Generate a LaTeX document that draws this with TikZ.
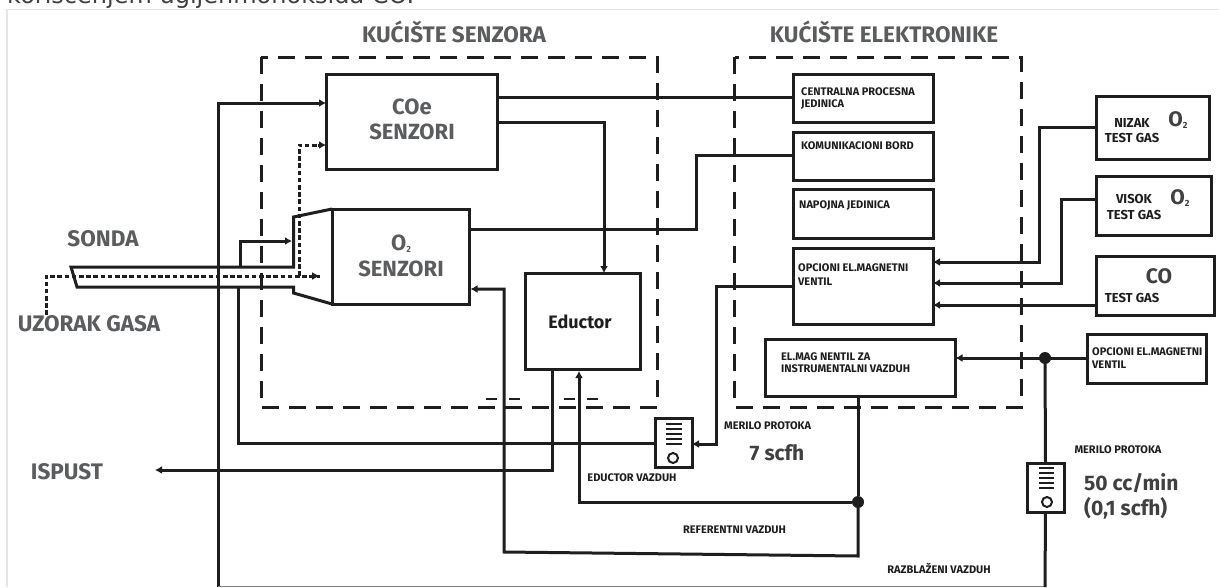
\documentclass[tikz,border=0pt]{standalone}
\usepackage{fontspec}
\setmainfont{Fira Sans}
\newfontfamily\topfont{DejaVu Sans}
\usetikzlibrary{arrows.meta}
\definecolor{inkc}{HTML}{1E1E1E}
\definecolor{headc}{HTML}{5A5C5E}
\definecolor{framec}{HTML}{E6E6E6}
\newcommand{\subtwo}{\raisebox{-2pt}{\fontsize{9}{9}\selectfont 2}}
\tikzset{
  conn/.style={draw=inkc,line width=3pt,line join=miter},
  arr/.style={conn,-{Latex[length=7pt,width=8pt]}},
  gas/.style={draw=inkc,line width=3pt,dash pattern=on 4.6pt off 2.6pt},
  house/.style={draw=inkc,line width=3pt,dash pattern=on 17pt off 10pt},
  boxn/.style={draw=inkc,line width=3pt,fill=white,inner sep=0pt,outer sep=0pt},
  head/.style={font=\bfseries\fontsize{22.5}{22.5}\selectfont,text=headc,inner sep=0pt},
  big/.style={font=\bfseries\fontsize{22}{24}\selectfont,text=headc,inner sep=0pt,align=center},
  mid/.style={font=\bfseries\fontsize{21}{25}\selectfont,text=inkc!85,inner sep=0pt,align=left},
  tiny/.style={font=\bfseries\fontsize{11}{13}\selectfont,text=inkc,inner sep=0pt,align=left},
  tsm/.style={font=\bfseries\fontsize{13}{13}\selectfont,text=inkc,inner sep=0pt},
  dotn/.style={circle,fill=inkc,minimum size=12pt,inner sep=0pt,outer sep=0pt},
  bar/.style={draw=inkc,line width=2pt},
}
\newcommand{\rbox}[5]{\node[boxn,minimum width=#4pt-#2pt,minimum height=#5pt-#3pt,anchor=north west] (#1) at (#2,#3) {};}
\begin{document}
\begin{tikzpicture}[x=1pt,y=-1pt]
\useasboundingbox (0,0) rectangle (1219,587);
\fill[white] (0,0) rectangle (1219,587);
% page text and frame
\begin{scope}
\clip (0,0) rectangle (1219,8);
\node[anchor=base west,inner sep=0pt,font=\topfont\fontsize{24}{26}\selectfont,text=black!75] (toptext) at (7,3.5) {korišćenjem ugljenmonoksida CO.};
\end{scope}
\draw[framec,line width=1.4pt] (7,587) -- (7,9.5) -- (1219,9.5);

% dashed housings
\coordinate (sa) at (261,57); \coordinate (sb) at (657,407);
\coordinate (ea) at (734.5,57); \coordinate (eb) at (1021,407);
\draw[house] (sa) rectangle (sb);
\draw[house] (ea) rectangle (eb);
\node[head] (hs) at (454,32) {KUĆIŠTE SENZORA};
\node[head] (he) at (884,32) {KUĆIŠTE ELEKTRONIKE};

% short dashes
\draw[conn,line width=2pt,dash pattern=on 11pt off 12pt] (486,398.5) -- (521,398.5);
\draw[conn,line width=2pt,dash pattern=on 11pt off 12pt] (564,398.5) -- (599,398.5);

% boxes
\rbox{coe}{326}{74}{497}{169}
\rbox{otwo}{332}{209}{469}{304}
\rbox{educ}{525}{273}{640}{369}
\rbox{cpu}{793}{74}{933}{122}
\rbox{kom}{793}{132}{933}{180}
\rbox{nap}{793}{189}{933}{238}
\rbox{opc}{793}{248}{933}{324}
\rbox{elm}{765}{339}{955.5}{396}
\rbox{niz}{1096}{96}{1209}{159}
\rbox{vis}{1096}{176}{1211}{235}
\rbox{cog}{1096}{256}{1214}{315}
\rbox{opr}{1087}{334}{1206}{383}
\rbox{mone}{655}{418}{692}{467}
\rbox{mtwo}{1027}{463}{1064}{512}

% named free points
\coordinate (probeTL) at (71,267);
\coordinate (probeBL) at (77,287);
\coordinate (probeTR) at (293.5,267);
\coordinate (probeBR) at (293.5,287);
\coordinate (gasStart) at (46,315);
\coordinate (gasEnd) at (320,276);
\coordinate (ispust) at (155,470);
\node[dotn] (jref) at (858,502) {};
\node[dotn] (jin) at (1045,358) {};

% probe and funnel
\draw[conn] (otwo.north west) -- (293.5,217) -- (probeTR) -- (probeTL) -- (probeBL) -- (probeBR) -- (293.5,293) -- (otwo.south west);
% bypass into funnel
\draw[arr] (240,267) -- (240,241) -- (292,241);

% main air line
\draw[arr] (218,587) -- (218,103) -- (coe.west |- 0,103);
\draw[black!50,line width=1.2pt] (218,586.2) -- (1045,586.2);
\draw[conn] (mtwo.south) -- (1045,587);
\draw[conn] (jin) -- (mtwo.north);

% gas sample
\draw[gas] (gasStart) -- (46,276) -- (gasEnd);
\draw[-{Latex[length=8pt,width=8pt]},draw=inkc,line width=2.4pt] (314,276) -- (gasEnd);
\draw[gas] (299,276) -- (299,145) -- (320,145);
\draw[arr] (318,145) -- (coe.west |- 0,145);

% signal and flow lines
\draw[conn] (497,97) -- (cpu.west |- 0,97);
\draw[arr] (497,122) -- (604,122) -- (604,122 |- educ.north);
\draw[conn] (469,229) -- (696,229) -- (696,155) -- (kom.west |- 0,155);
\draw[conn] (238,287) -- (238,443) -- (mone.west |- 0,443);
\draw[arr] (opc.west |- 0,286) -- (716,286) -- (716,444) -- (mone.east |- 0,444);
\draw[arr] (niz.west |- 0,127) -- (1039,127) -- (1039,262) -- (opc.east |- 0,262);
\draw[arr] (vis.west |- 0,199) -- (1061,199) -- (1061,283) -- (opc.east |- 0,283);
\draw[arr] (cog.west |- 0,305) -- (opc.east |- 0,305);
\draw[arr] (opr.west |- 0,358) -- (elm.east |- 0,358);
\draw[conn] (elm.south -| jref) -- (jref);
\draw[arr] (jref) -- (579,502) -- (579,371);
\draw[arr] (jref) -- (858,556) -- (504,552) -- (504,289) -- (470.5,289);
\draw[arr] (552,370) -- (552,470) -- (ispust);

% flow meters
\foreach \y in {424,429,434,439,443.5} \draw[bar] (666,\y) -- (682,\y);
\draw[inkc,line width=2pt] (673,458) circle (5);
\foreach \y in {468,473,478,483,487.5} \draw[bar] (1039,\y) -- (1054,\y);
\draw[inkc,line width=2pt] (1047,502) circle (5);

% large labels
\node[big] (tcoe) at (412,107) {COe};
\node[big] (tcos) at (412,132) {SENZORI};
\node[big] (to2) at (401,244) {O\subtwo};
\node[big] (to2s) at (401,269) {SENZORI};
\node[head] (tson) at (103,239) {SONDA};
\node[head] (tuz) at (89,324) {UZORAK GASA};
\node[head] (tisp) at (67,472) {ISPUST};
\node[font=\bfseries\fontsize{18}{18}\selectfont,inner sep=0pt,text=inkc] (teduc) at (580,322) {Eductor};

% small labels in boxes
\node[tiny,anchor=west] (t1) at (801,92) {CENTRALNA PROCESNA};
\node[tiny,anchor=west] (t1b) at (801,105) {JEDINICA};
\node[tiny,anchor=west] (t2) at (801,146) {KOMUNIKACIONI BORD};
\node[tiny,anchor=west] (t3) at (799,206) {NAPOJNA JEDINICA};
\node[tiny,anchor=west] (t4) at (798,268) {OPCIONI EL.MAGNETNI};
\node[tiny,anchor=west] (t4b) at (798,282) {VENTIL};
\node[tiny,anchor=west] (t5) at (781,357) {EL.MAG NENTIL ZA};
\node[tiny,anchor=west] (t5b) at (781,369) {INSTRUMENTALNI VAZDUH};
\node[tiny,anchor=west] (t6) at (1092,352) {OPCIONI EL.MAGNETNI};
\node[tiny,anchor=west] (t6b) at (1092,365) {VENTIL};
\node[tsm] (t7) at (1132,123) {NIZAK};
\node[tsm] (t7b) at (1132,138) {TEST GAS};
\node[tsm] (t8) at (1134,199) {VISOK};
\node[tsm] (t8b) at (1134,215) {TEST GAS};
\node[tsm] (t9b) at (1132,298) {TEST GAS};
\node[mid] (o1) at (1178,120) {O\subtwo};
\node[mid] (o2) at (1180,198) {O\subtwo};
\node[mid] (co) at (1159,276) {CO};

% outside labels
\node[tiny,anchor=west] (m1) at (724,426) {MERILO PROTOKA};
\node[mid] (s7) at (777,453) {7 scfh};
\node[tiny] (ev) at (632,478) {EDUCTOR VAZDUH};
\node[tiny] (rv) at (734.5,530) {REFERENTNI VAZDUH};
\node[tiny] (rz) at (939,568) {RAZBLAŽENI VAZDUH};
\node[tiny] (m2) at (1118,450) {MERILO PROTOKA};
\node[mid,anchor=west] (s50) at (1084,483) {50 cc/min};
\node[mid,anchor=west] (s01) at (1084,508) {(0,1 scfh)};
\end{tikzpicture}
\end{document}
